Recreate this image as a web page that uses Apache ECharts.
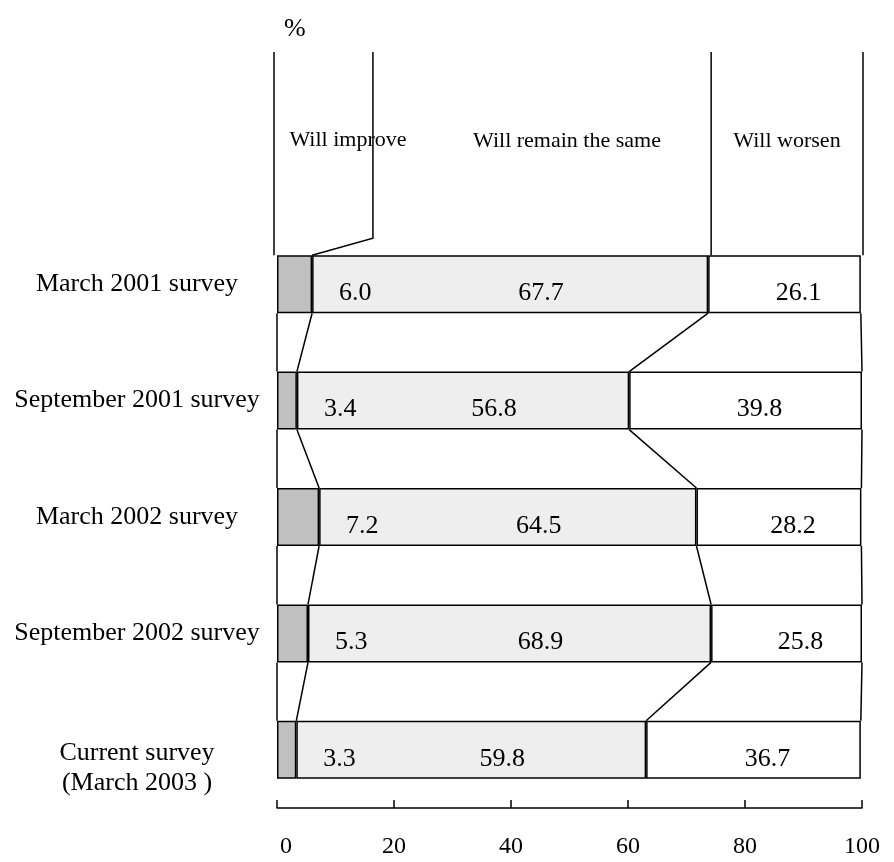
<!DOCTYPE html>
<html>
<head>
<meta charset="utf-8">
<script src="https://cdn.jsdelivr.net/npm/echarts@6/dist/echarts.min.js"></script>
<style>html,body{margin:0;padding:0;background:#fff}#c{width:894px;height:862px}</style>
</head>
<body>
<div id="c"></div>
<script>
const categories = ['March 2001 survey', 'September 2001 survey', 'March 2002 survey', 'September 2002 survey', 'Current survey\n(March 2003 )'];
const willImprove = [6.0, 3.4, 7.2, 5.3, 3.3];
const willRemain = [67.7, 56.8, 64.5, 68.9, 59.8];
const willWorsen = [26.1, 39.8, 28.2, 25.8, 36.7];
const xTicks = [0, 20, 40, 60, 80, 100];
const headerLabels = ['Will improve', 'Will remain the same', 'Will worsen'];

const FONT = '"Liberation Serif", "Times New Roman", serif';
const BAR_W = 58;
const HALF = BAR_W / 2;

const chart = echarts.init(document.getElementById('c'));

function bounds(i) {
  return [0, willImprove[i], willImprove[i] + willRemain[i], willImprove[i] + willRemain[i] + willWorsen[i]];
}

const connectorData = categories.map((c, i) => [0, i]);

const labelBase = { show: true, fontFamily: FONT, fontSize: 26, color: '#000', formatter: p => p.value.toFixed(1) };

chart.setOption({
  animation: false,
  backgroundColor: '#fff',
  grid: { left: 277, right: 32, top: 226, bottom: 54 },
  xAxis: {
    type: 'value', min: 0, max: 100, interval: 20,
    axisLine: { show: true, lineStyle: { color: '#000', width: 1.5 } },
    axisTick: { show: true, inside: true, length: 8, lineStyle: { color: '#000', width: 1.5 } },
    splitLine: { show: false },
    axisLabel: { margin: 27, fontFamily: FONT, fontSize: 24, color: '#000',
      formatter: v => v === 0 ? '{z|0}' : (xTicks.includes(v) ? String(v) : ''),
      rich: { z: { fontFamily: FONT, fontSize: 24, color: '#000', padding: [0, 0, 0, 18] } } }
  },
  yAxis: {
    type: 'category', inverse: true,
    data: categories,
    axisLine: { show: false }, axisTick: { show: false },
    axisLabel: { margin: 140, align: 'center', fontFamily: FONT, fontSize: 26, color: '#000', lineHeight: 30,
      formatter: v => v.indexOf('\n') >= 0 ? '{pad| }\n' + v.split('\n').map(s => '{a|' + s + '}').join('\n') : v,
      rich: {
        a: { fontFamily: FONT, fontSize: 26, color: '#000', lineHeight: 30, align: 'center' },
        pad: { fontSize: 10, lineHeight: 37, height: 37 }
      } }
  },
  series: [
    { name: 'Will improve', type: 'bar', stack: 's', barWidth: BAR_W, data: willImprove,
      itemStyle: { color: '#c0c0c0', borderColor: '#000', borderWidth: 1.5 },
      label: Object.assign({}, labelBase, { position: 'right', distance: 27, offset: [0, 9] }) },
    { name: 'Will remain the same', type: 'bar', stack: 's', barWidth: BAR_W, data: willRemain,
      itemStyle: { color: '#eeeeee', borderColor: '#000', borderWidth: 1.5 },
      label: Object.assign({}, labelBase, { position: 'inside', offset: [31, 9] }) },
    { name: 'Will worsen', type: 'bar', stack: 's', barWidth: BAR_W, data: willWorsen,
      itemStyle: { color: '#ffffff', borderColor: '#000', borderWidth: 1.5 },
      label: Object.assign({}, labelBase, { position: 'inside', offset: [14, 9] }) },
    { type: 'custom', z: 5, clip: false, silent: true,
      encode: { x: 0, y: 1 },
      data: connectorData,
      renderItem: function (params, api) {
        const i = params.dataIndex;
        const children = [];
        const ls = { stroke: '#000', lineWidth: 1.5, fill: null };
        const b0 = bounds(i);
        const c0 = api.coord([0, i]);
        if (i < categories.length - 1) {
          const b1 = bounds(i + 1);
          const c1 = api.coord([0, i + 1]);
          for (let k = 0; k < 4; k++) {
            const x0 = api.coord([b0[k], i])[0];
            const x1 = api.coord([b1[k], i + 1])[0];
            children.push({ type: 'line', shape: { x1: x0, y1: c0[1] + HALF, x2: x1, y2: c1[1] - HALF }, style: ls });
          }
        }
        if (i === 0) {
          const top = 52;
          const barTop = c0[1] - HALF;
          const xl = api.coord([0, 0])[0] - 3;
          children.push({ type: 'line', shape: { x1: xl, y1: top, x2: xl, y2: barTop }, style: ls });
          const xh = api.coord([16.4, 0])[0];
          const xi = api.coord([b0[1], 0])[0];
          children.push({ type: 'polyline', shape: { points: [[xh, top], [xh, barTop - 17], [xi, barTop]] }, style: ls });
          const xr = api.coord([b0[2], 0])[0] + 3;
          children.push({ type: 'line', shape: { x1: xr, y1: top, x2: xr, y2: barTop }, style: ls });
          const xw = api.coord([100, 0])[0] + 1;
          children.push({ type: 'line', shape: { x1: xw, y1: top, x2: xw, y2: barTop }, style: ls });
        }
        return { type: 'group', children: children };
      }
    }
  ],
  graphic: [
    { type: 'text', left: 284, top: 16, style: { text: '%', font: '26px ' + FONT, fill: '#000' } },
    { type: 'text', x: 348, y: 140, style: { text: headerLabels[0], font: '22px ' + FONT, fill: '#000', align: 'center', verticalAlign: 'middle' } },
    { type: 'text', x: 567, y: 141, style: { text: headerLabels[1], font: '22px ' + FONT, fill: '#000', align: 'center', verticalAlign: 'middle' } },
    { type: 'text', x: 787, y: 141, style: { text: headerLabels[2], font: '22px ' + FONT, fill: '#000', align: 'center', verticalAlign: 'middle' } }
  ]
});
</script>
</body>
</html>
